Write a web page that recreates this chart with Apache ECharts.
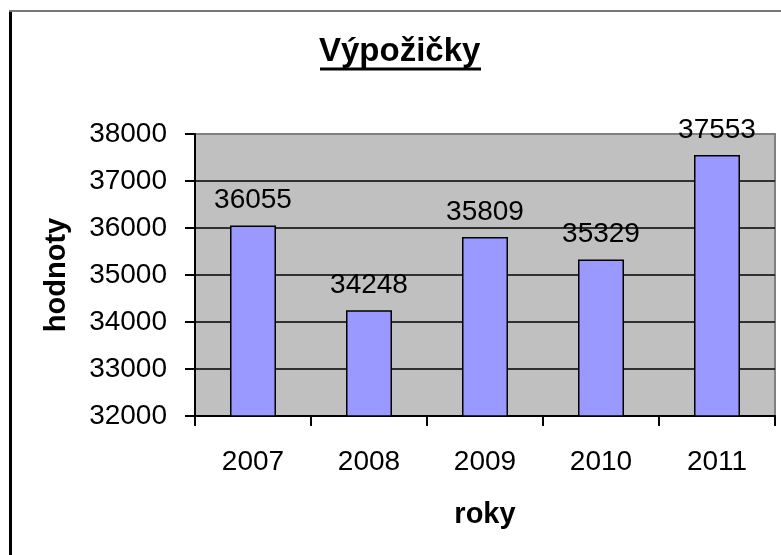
<!DOCTYPE html>
<html>
<head>
<meta charset="utf-8">
<script src="https://cdn.jsdelivr.net/npm/echarts@6/dist/echarts.min.js"></script>
<style>html,body{margin:0;padding:0;background:#fff}#c{width:781px;height:555px}</style>
</head>
<body>
<div id="c"></div>
<script>
const categories = ['2007', '2008', '2009', '2010', '2011'];
const values = [36055, 34248, 35809, 35329, 37553];
const titleText = 'Výpožičky';
const xName = 'roky';
const yName = 'hodnoty';

const FONT = '"Liberation Sans", Arial, sans-serif';
const chart = echarts.init(document.getElementById('c'), null, {renderer: 'canvas'});
chart.setOption({
  animation: false,
  backgroundColor: '#fff',
  title: {
    text: titleText, left: 319, top: 35, padding: 0,
    textStyle: {fontFamily: FONT, fontSize: 33, fontWeight: 'bold', color: '#000'}
  },
  graphic: [
    {type: 'line', shape: {x1: 320, y1: 69, x2: 481, y2: 69}, style: {stroke: '#000', lineWidth: 3}},
    {type: 'line', shape: {x1: 10.5, y1: 10, x2: 10.5, y2: 560}, style: {stroke: '#000', lineWidth: 3}},
    {type: 'line', shape: {x1: 9, y1: 11, x2: 790, y2: 11}, style: {stroke: '#777', lineWidth: 2}}
  ],
  grid: {
    left: 195, top: 134, right: 6, bottom: 139,
    show: true, backgroundColor: '#C0C0C0', borderColor: '#808080', borderWidth: 2
  },
  xAxis: {
    type: 'category', data: categories,
    name: xName, nameLocation: 'middle', nameGap: 84,
    nameTextStyle: {fontFamily: FONT, fontSize: 29, fontWeight: 'bold', color: '#000'},
    axisLine: {lineStyle: {color: '#000', width: 2}},
    axisTick: {show: true, length: 10, lineStyle: {color: '#000', width: 2}},
    axisLabel: {fontFamily: FONT, fontSize: 28, color: '#000', margin: 32}
  },
  yAxis: {
    type: 'value', min: 32000, max: 38000, interval: 1000,
    name: yName, nameLocation: 'middle', nameGap: 124, nameRotate: 90,
    nameTextStyle: {fontFamily: FONT, fontSize: 29, fontWeight: 'bold', color: '#000'},
    axisLine: {show: true, lineStyle: {color: '#000', width: 2}},
    axisTick: {show: true, length: 10, lineStyle: {color: '#000', width: 2}},
    axisLabel: {fontFamily: FONT, fontSize: 28, color: '#000', margin: 28, formatter: v => String(v)},
    splitLine: {show: true, lineStyle: {color: ['#000','#000','#000','#000','#000','#000','#808080'], width: 1.5}}
  },
  series: [{
    type: 'bar', data: values, barWidth: 46,
    itemStyle: {color: '#9999FF', borderColor: '#000', borderWidth: 1.5},
    label: {show: true, position: 'top', distance: 11, fontFamily: FONT, fontSize: 28, color: '#000'}
  }]
});
</script>
</body>
</html>
